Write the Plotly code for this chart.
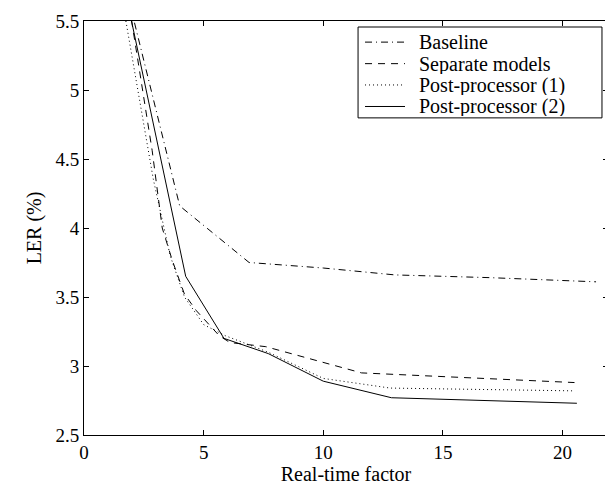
import plotly.graph_objects as go

# Data
baseline_x = [1.95, 4.0, 6.9, 10.0, 13.0, 17.0, 21.4]
baseline_y = [5.6, 4.16, 3.75, 3.71, 3.66, 3.64, 3.61]

separate_x = [1.9, 2.85, 3.27, 3.7, 4.2, 4.7, 5.65, 6.1, 7.6, 11.6, 20.5]
separate_y = [5.6, 4.56, 4.0, 3.76, 3.52, 3.40, 3.22, 3.17, 3.14, 2.95, 2.88]

post1_x = [1.75, 2.9, 3.6, 4.2, 5.0, 5.9, 7.7, 10.0, 12.8, 20.4]
post1_y = [5.5, 4.35, 3.8, 3.5, 3.3, 3.22, 3.1, 2.91, 2.84, 2.82]

post2_x = [1.9, 4.25, 5.85, 7.7, 10.0, 12.85, 20.6]
post2_y = [5.57, 3.65, 3.2, 3.09, 2.89, 2.77, 2.73]

series_names = ["Baseline", "Separate models", "Post-processor (1)", "Post-processor (2)"]

x_ticks = [0, 5, 10, 15, 20]
y_ticks = [2.5, 3, 3.5, 4, 4.5, 5, 5.5]
y_ticklabels = ["2.5", "3", "3.5", "4", "4.5", "5", "5.5"]

font_family = "Liberation Serif"
styles = ["7px,4px,1px,4px", "7px,6px", "1px,3px", "solid"]

fig = go.Figure()
for name, xs, ys, dash in zip(series_names,
                              [baseline_x, separate_x, post1_x, post2_x],
                              [baseline_y, separate_y, post1_y, post2_y],
                              styles):
    fig.add_trace(go.Scatter(x=xs, y=ys, mode="lines", name=name, showlegend=False,
                             line=dict(color="black", width=1, dash=dash)))

# MATLAB-style legend box drawn in paper coordinates
box_x0, box_x1, box_y0, box_y1 = 0.523, 0.9885, 0.766, 0.9855
row_y = [0.949, 0.897, 0.8455, 0.7935]
sample_x0, sample_x1, text_x = 0.5363, 0.6126, 0.6374

shapes = [dict(type="rect", xref="paper", yref="paper",
               x0=box_x0, x1=box_x1, y0=box_y0, y1=box_y1,
               line=dict(color="black", width=1), fillcolor="white", layer="above")]
annotations = []
for name, dash, yy in zip(series_names, styles, row_y):
    shapes.append(dict(type="line", xref="paper", yref="paper",
                       x0=sample_x0, x1=sample_x1, y0=yy, y1=yy,
                       line=dict(color="black", width=1, dash=dash), layer="above"))
    annotations.append(dict(xref="paper", yref="paper", x=text_x, y=yy,
                            xanchor="left", yanchor="middle", text=name, showarrow=False,
                            height=20, valign="middle", borderpad=0,
                            font=dict(family=font_family, size=20, color="black")))

axis_common = dict(showline=True, linecolor="black", linewidth=1, mirror="ticks",
                   ticks="inside", ticklen=5, tickcolor="black", showgrid=False,
                   zeroline=False, automargin=False,
                   tickfont=dict(family=font_family, size=19, color="black"))

# the page has an 8px body margin, so the figure is 8px smaller than the window
fig.update_layout(
    width=605, height=478,
    margin=dict(l=76, r=5, t=13, b=51),
    paper_bgcolor="white", plot_bgcolor="white",
    font=dict(family=font_family, size=19, color="black"),
    xaxis=dict(range=[0, 21.9], tickvals=x_ticks,
               title=dict(text="Real-time factor", font=dict(size=20), standoff=2),
               **axis_common),
    yaxis=dict(range=[2.5, 5.5], tickvals=y_ticks, ticktext=y_ticklabels,
               title=dict(text="LER (%)", font=dict(size=20), standoff=8),
               **axis_common),
    shapes=shapes,
    annotations=annotations,
    showlegend=False,
)

fig.write_html("out.html")
